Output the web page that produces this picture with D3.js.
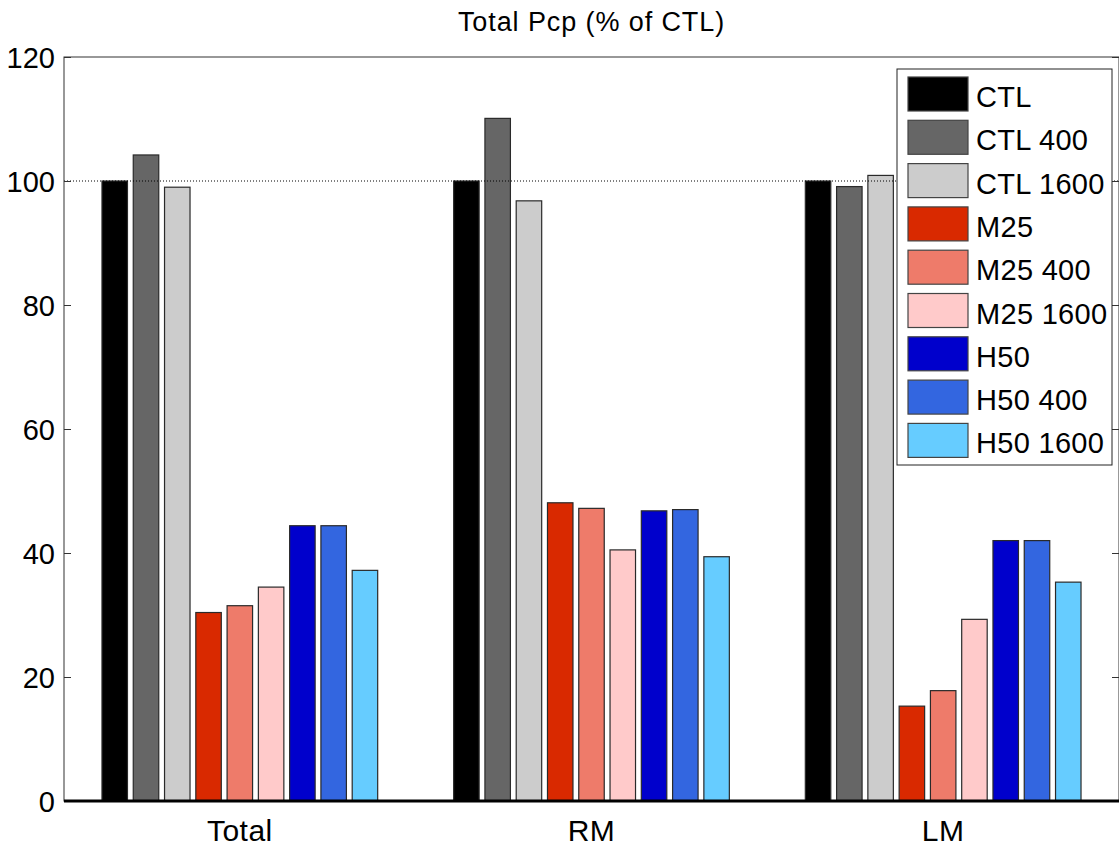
<!DOCTYPE html>
<html>
<head>
<meta charset="utf-8">
<script src="https://cdn.jsdelivr.net/npm/d3@7"></script>
<style>
  body { margin: 0; background: #fff; }
  text { font-family: "Liberation Sans", Arial, sans-serif; fill: #000; }
</style>
</head>
<body>
<div id="chart"></div>
<script>
// regions (x groups) and runs (bars in each group)
const regions = ["Total", "RM", "LM"];
const runs = ["CTL", "CTL 400", "CTL 1600", "M25", "M25 400", "M25 1600", "H50", "H50 400", "H50 1600"];
const runColors = ["#000000", "#666666", "#cccccc", "#d92900", "#ee7b6a", "#ffcaca", "#0000cc", "#3366e0", "#66ccff"];

// % of CTL, one array per region, in the order of runs
const totalVals = [100, 104.2, 99.0, 30.4, 31.5, 34.5, 44.4, 44.4, 37.2];
const rmVals = [100, 110.1, 96.8, 48.1, 47.2, 40.5, 46.8, 47.0, 39.4];
const lmVals = [100, 99.1, 100.9, 15.3, 17.8, 29.3, 42.0, 42.0, 35.3];
const yTicks = [0, 20, 40, 60, 80, 100, 120];

const W = 1119, H = 848;
const plotL = 64, plotR = 1119, plotT = 57, plotB = 801;

const svg = d3.select("#chart").append("svg")
    .attr("width", W)
    .attr("height", H);

const x0 = d3.scaleBand().domain(regions).range([plotL, plotR]).padding(0);
const groupW = x0.bandwidth() * 0.8;
const x1 = d3.scaleBand().domain(runs).range([-groupW / 2, groupW / 2]).paddingInner(0.185).paddingOuter(0.09);
const y = d3.scaleLinear().domain([0, 120]).range([plotB, plotT]);
const color = d3.scaleOrdinal().domain(runs).range(runColors);

const rows = [totalVals, rmVals, lmVals];
const data = [];
regions.forEach(function(r, i) {
    runs.forEach(function(s, j) {
        data.push({ region: r, run: s, value: rows[i][j] });
    });
});

// bars
svg.append("g").selectAll("rect")
    .data(data)
    .enter().append("rect")
    .attr("x", d => x0(d.region) + x0.bandwidth() / 2 + x1(d.run))
    .attr("width", x1.bandwidth())
    .attr("y", d => y(d.value))
    .attr("height", d => y(0) - y(d.value))
    .attr("fill", d => color(d.run))
    .attr("stroke", "#2a2a2a")
    .attr("stroke-width", 1.2);

// dotted reference line at 100
svg.append("line")
    .attr("x1", plotL).attr("x2", plotR)
    .attr("y1", y(100)).attr("y2", y(100))
    .attr("stroke", "#000")
    .attr("stroke-width", 1)
    .attr("stroke-dasharray", "1,2");

// frame
svg.append("rect")
    .attr("x", plotL).attr("y", plotT)
    .attr("width", plotR - plotL).attr("height", plotB - plotT)
    .attr("fill", "none")
    .attr("stroke", "#333")
    .attr("stroke-width", 1);

// y axis left (ticks inward)
const yAxis = d3.axisRight(y).tickValues(yTicks).tickSize(7).tickFormat(d3.format("d"));
const gy = svg.append("g").attr("transform", "translate(" + plotL + ",0)").call(yAxis);
gy.select(".domain").remove();
gy.selectAll("line").attr("stroke", "#333");
gy.selectAll("text")
    .attr("x", -9)
    .attr("dy", "0.36em")
    .attr("text-anchor", "end")
    .style("font-size", "29px");

// right side ticks
const gy2 = svg.append("g").attr("transform", "translate(" + plotR + ",0)")
    .call(d3.axisLeft(y).tickValues(yTicks).tickSize(7).tickFormat(""));
gy2.select(".domain").remove();
gy2.selectAll("line").attr("stroke", "#333");

// baseline
svg.append("line")
    .attr("x1", plotL).attr("x2", plotR)
    .attr("y1", y(0)).attr("y2", y(0))
    .attr("stroke", "#000")
    .attr("stroke-width", 3);

// x labels
svg.append("g").selectAll("text")
    .data(regions)
    .enter().append("text")
    .attr("x", d => x0(d) + x0.bandwidth() / 2)
    .attr("y", 841)
    .attr("text-anchor", "middle")
    .style("font-size", "30px")
    .style("letter-spacing", "0.5px")
    .text(d => d);

// title
svg.append("text")
    .attr("x", (plotL + plotR) / 2)
    .attr("y", 31)
    .attr("text-anchor", "middle")
    .style("font-size", "27px")
    .style("letter-spacing", "0.9px")
    .text("Total Pcp (% of CTL)");

// legend
const lg = svg.append("g");
lg.append("rect")
    .attr("x", 897).attr("y", 69)
    .attr("width", 215).attr("height", 396)
    .attr("fill", "#fff")
    .attr("stroke", "#222")
    .attr("stroke-width", 1);
const items = lg.selectAll("g.item")
    .data(runs)
    .enter().append("g")
    .attr("class", "item")
    .attr("transform", (d, i) => "translate(908," + (77 + i * 43.3) + ")");
items.append("rect")
    .attr("width", 60).attr("height", 34)
    .attr("fill", d => color(d))
    .attr("stroke", "#444")
    .attr("stroke-width", 1.2);
items.append("text")
    .attr("x", 68)
    .attr("y", 30)
    .style("font-size", "29px")
    .style("letter-spacing", "0.3px")
    .text(d => d);
</script>
</body>
</html>
